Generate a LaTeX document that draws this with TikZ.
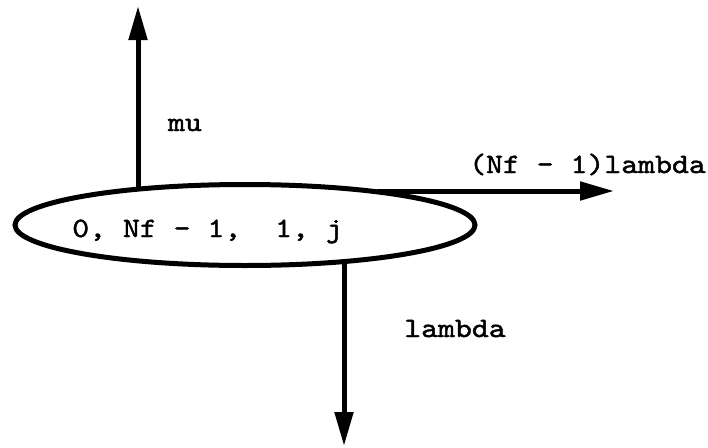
\documentclass[tikz,border=0pt]{standalone}
\usepackage{fontspec}
\newfontfamily\monof{lmmono10-regular.otf}[FakeStretch=1.15,FakeBold=1.6]
\usetikzlibrary{shapes.geometric,arrows.meta}
\begin{document}
\begin{tikzpicture}[x=1pt,y=-1pt,
  lbl/.style={font=\monof\fontsize{28}{28}\selectfont, inner sep=0pt, anchor=base},
  conn/.style={line width=5pt, -{Triangle[length=34pt,width=18pt]}},
  state/.style={ellipse, draw, line width=5pt, minimum width=460pt, minimum height=81pt, inner sep=0pt}]
\useasboundingbox (0,0) rectangle (708,447);
\node[state] (s) at (245,225) {};
\node[lbl] (st) at (207.5,237) {0, Nf - 1,\ \ 1, j};
\node[lbl] (mul) at (185,131) {mu};
\node[lbl] (nfl) at (587.5,173) {(Nf - 1)lambda};
\node[lbl] (lam) at (455,337) {lambda};
\coordinate (uptip) at (138,6);
\coordinate (dntip) at (344,446);
\coordinate (rtip) at (614,191);
\draw[conn] (uptip |- s.160) -- (uptip);
\draw[conn] (dntip |- s.339) -- (dntip);
\draw[conn] (s.15 |- rtip) -- (rtip);
\end{tikzpicture}
\end{document}
